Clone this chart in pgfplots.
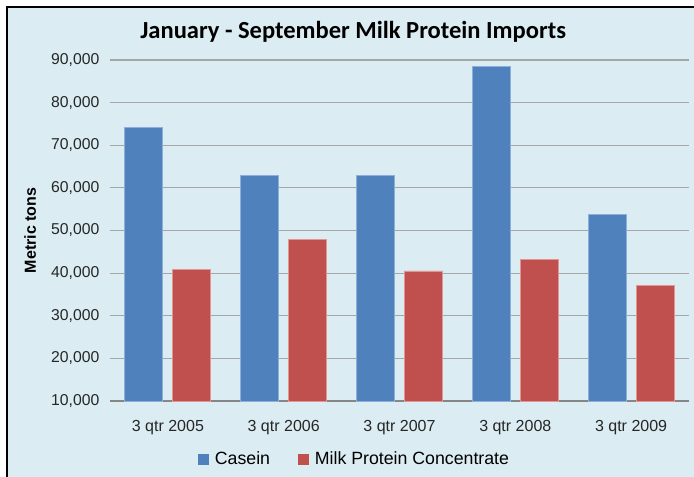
\documentclass[border=0pt]{standalone}
\usepackage{fontspec}
\setmainfont{Liberation Sans}
\newfontfamily\titlefont{Carlito}
\usepackage{pgfplots}
\pgfplotsset{compat=1.18}
\usetikzlibrary{backgrounds}

\definecolor{bgblue}{RGB}{219,237,243}
\definecolor{casein}{RGB}{79,129,189}
\definecolor{caseinedge}{RGB}{140,175,220}
\definecolor{mpc}{RGB}{192,80,77}
\definecolor{mpcedge}{RGB}{225,150,148}
\definecolor{gridgray}{RGB}{166,166,166}
\definecolor{axisgray}{RGB}{134,134,134}

\begin{document}
\begin{tikzpicture}
\begin{axis}[
  name=ax,
  at={(0pt,0pt)}, anchor=south west,
  scale only axis,
  width=434.25pt, height=255.75pt,
  xmin=-0.5, xmax=4.5,
  ymin=10000, ymax=90000,
  xtick={0,1,2,3,4},
  xticklabels={3 qtr 2005,3 qtr 2006,3 qtr 2007,3 qtr 2008,3 qtr 2009},
  ytick={10000,20000,...,90000},
  scaled y ticks=false,
  /pgf/number format/assume math mode=true,
  /pgf/number format/fixed,
  /pgf/number format/1000 sep={,},
  xticklabel style={font=\fontsize{12}{14}\selectfont, text=black!85, yshift=-11pt},
  yticklabel style={font=\fontsize{11.8}{14}\selectfont, text=black!85, xshift=-4.5pt},
  major tick length=0pt,
  axis x line=bottom, axis y line=left,
  x axis line style={draw=axisgray, line width=0.8pt, -},
  y axis line style={draw=none},
  ymajorgrids,
  grid style={draw=gridgray, line width=0.8pt},
  ylabel={\textbf{Metric tons}},
  ylabel style={at={(axis description cs:-0.138,0.5)}, anchor=center, font=\fontsize{12}{14}\selectfont},
  title={\titlefont\bfseries January - September Milk Protein Imports},
  title style={at={(axis description cs:0.42,1.058)}, anchor=center, yshift=0pt, font=\fontsize{18.4}{21}\selectfont},
  legend columns=2,
  legend style={at={(axis description cs:0.423,-0.170)}, anchor=center,
    draw=none, fill=none, font=\fontsize{13.3}{15}\selectfont,
    /tikz/every odd column/.append style={column sep=2.5pt},
    /tikz/every even column/.append style={column sep=19pt},
    inner sep=0pt},
  ybar, bar width=28.5pt,
]
\addplot[fill=casein, draw=caseinedge, line width=0.6pt, bar shift=-18pt,
  legend image code/.code={\fill[casein] (0pt,-3.75pt) rectangle (7.5pt,3.75pt);}]
  coordinates {(0,74100) (1,62900) (2,62900) (3,88400) (4,53700)};
\addlegendentry{Casein}
\addplot[fill=mpc, draw=mpcedge, line width=0.6pt, bar shift=18pt,
  legend image code/.code={\fill[mpc] (0pt,-3.75pt) rectangle (7.5pt,3.75pt);}]
  coordinates {(0,40900) (1,47900) (2,40500) (3,43200) (4,37100)};
\addlegendentry{Milk Protein Concentrate}
\end{axis}
\begin{scope}[on background layer, x=0.75pt, y=0.75pt, shift={(ax.south west)}]
  \fill[white] (-110,-75) rectangle (584,401);
  \draw[black, line width=1.5pt, fill=bgblue] (-103,-95) rectangle (610,394);
\end{scope}
\pgfresetboundingbox
\path[use as bounding box, x=0.75pt, y=0.75pt, shift={(ax.south west)}] (-110,-75) rectangle (584,401);
\end{tikzpicture}
\end{document}
